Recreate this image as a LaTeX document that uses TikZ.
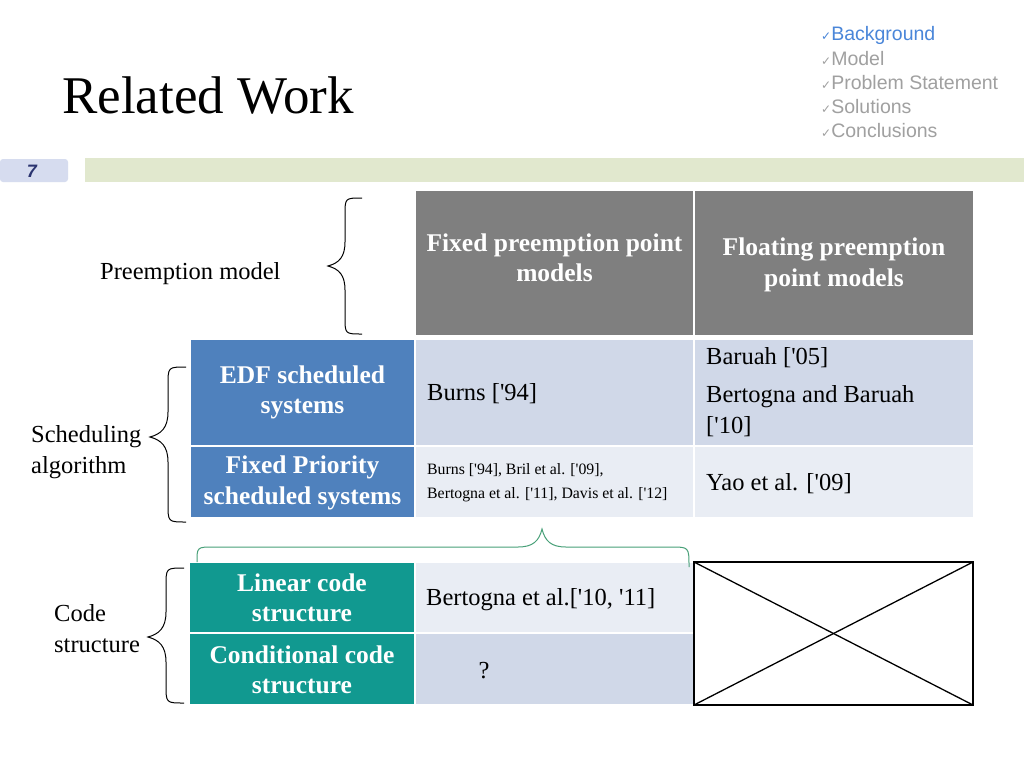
\documentclass[tikz,border=0pt]{standalone}
\usepackage{fontspec}
\newfontfamily\bodyfont{Liberation Serif}
\newfontfamily\navfont{Liberation Sans}
\newfontfamily\symfont{DejaVu Sans}
\definecolor{hdrgray}{RGB}{127,127,127}
\definecolor{blueA}{RGB}{79,129,189}
\definecolor{tealA}{RGB}{17,153,144}
\definecolor{lightA}{RGB}{208,216,232}
\definecolor{lightB}{RGB}{233,237,244}
\definecolor{barGreen}{RGB}{225,232,206}
\definecolor{numBox}{RGB}{214,220,239}
\definecolor{numText}{RGB}{43,52,112}
\definecolor{navBlue}{RGB}{74,134,217}
\definecolor{navGray}{RGB}{160,160,160}
\definecolor{braceGreen}{RGB}{72,160,120}
\begin{document}
\begin{tikzpicture}[x=1pt,y=-1pt,
  cell/.style={draw=none,inner sep=0,outer sep=0,anchor=north west},
  body/.style={font=\bodyfont\fontsize{24.5}{31}\selectfont,text=black,inner sep=0,align=left},
  small/.style={font=\bodyfont\fontsize{15.8}{24}\selectfont,text=black,inner sep=0,align=left},
  head/.style={font=\bodyfont\bfseries\fontsize{25.5}{30.5}\selectfont,text=white,inner sep=0,align=center},
  nav/.style={font=\navfont\fontsize{19.5}{20}\selectfont,inner sep=0,anchor=west},
  bracepath/.style={draw=black,line width=1pt},
  gbrace/.style={draw=braceGreen,line width=1pt}]
\useasboundingbox[fill=white] (0,0) rectangle (1024,768);

% title and navigation
\node[font=\bodyfont\fontsize{53}{60}\selectfont,anchor=base west,inner sep=0] (title) at (62,113) {Related Work};
\node[nav,text=navBlue] (n1) at (821,35) {{\symfont\fontsize{12}{12}\selectfont ✓}Background};
\node[nav,text=navGray] (n2) at (821,59) {{\symfont\fontsize{12}{12}\selectfont ✓}Model};
\node[nav,text=navGray] (n3) at (821,83) {{\symfont\fontsize{12}{12}\selectfont ✓}Problem Statement};
\node[nav,text=navGray] (n4) at (821,107) {{\symfont\fontsize{12}{12}\selectfont ✓}Solutions};
\node[nav,text=navGray] (n5) at (821,131) {{\symfont\fontsize{12}{12}\selectfont ✓}Conclusions};

% page number and bar
\node[cell,fill=numBox,rounded corners=3pt,minimum width=68pt,minimum height=23pt] (pnbox) at (0,159) {};
\node[font=\navfont\bfseries\itshape\fontsize{18}{18}\selectfont,text=numText,inner sep=0] (pn) at (32,171) {7};
\node[cell,fill=barGreen,minimum width=939pt,minimum height=24pt] (bar) at (85,158) {};

% upper table
\node[cell,fill=hdrgray,minimum width=277pt,minimum height=144pt] (h2) at (416,191) {};
\node[cell,fill=hdrgray,minimum width=278pt,minimum height=144pt] (h3) at (695,191) {};
\node[cell,fill=blueA,minimum width=223pt,minimum height=105pt] (r1c1) at (191,340) {};
\node[cell,fill=lightA,minimum width=277pt,minimum height=105pt] (r1c2) at (416,340) {};
\node[cell,fill=lightA,minimum width=278pt,minimum height=105pt] (r1c3) at (695,340) {};
\node[cell,fill=blueA,minimum width=223pt,minimum height=70pt] (r2c1) at (191,447) {};
\node[cell,fill=lightB,minimum width=277pt,minimum height=70pt] (r2c2) at (416,447) {};
\node[cell,fill=lightB,minimum width=278pt,minimum height=70pt] (r2c3) at (695,447) {};

\node[head] (th2) at (554.5,258) {Fixed preemption point\\models};
\node[head] (th3) at (834,265) {Floating preemption\\point models};
\node[head] (t11) at (302.5,392.5) {EDF scheduled\\systems};
\node[head] (t21) at (302.5,483) {Fixed Priority\\scheduled systems};
\node[body,anchor=west] (t12) at (427,394) {Burns ['94]};
\node[body,anchor=west] (t13a) at (706,358) {Baruah ['05]};
\node[body,anchor=west] (t13b) at (706,411.5) {Bertogna and Baruah\\{}['10]};
\node[small,anchor=west] (t22) at (427,483) {Burns ['94], Bril et al. ['09],\\Bertogna et al. ['11], Davis et al. ['12]};
\node[body,anchor=west] (t23) at (706,484) {Yao et al. ['09]};

% lower table
\node[cell,fill=tealA,minimum width=224pt,minimum height=69pt] (l1c1) at (190,563) {};
\node[cell,fill=lightB,minimum width=277pt,minimum height=69pt] (l1c2) at (416,563) {};
\node[cell,fill=tealA,minimum width=224pt,minimum height=70pt] (l2c1) at (190,634) {};
\node[cell,fill=lightA,minimum width=277pt,minimum height=70pt] (l2c2) at (416,634) {};
\node[head] (tl1) at (302,598) {Linear code\\structure};
\node[head] (tl2) at (302,670) {Conditional code\\structure};
\node[body,anchor=west] (tl12) at (426,600) {Bertogna et al.['10, '11]};
\node[body] (tl22) at (484,671) {?};

\node[cell,draw=black,line width=1.5pt,minimum width=279pt,minimum height=143pt] (xbox) at (694,562) {};
\draw[line width=1.3pt] (xbox.north west) -- (xbox.south east);
\draw[line width=1.3pt] (xbox.south west) -- (xbox.north east);

% side labels
\node[body,anchor=west] (lpm) at (100,274) {Preemption model};
\node[body,anchor=west] (lsa) at (31,452.5) {Scheduling\\algorithm};
\node[body,anchor=west] (lcs) at (54,628.5) {Code\\structure};

% braces
\draw[bracepath] (362,198) .. controls (345,198) .. (345,215) -- (345,242) .. controls (345,257) and (339,263) .. (328,266)
  .. controls (339,269) and (345,275) .. (345,290) -- (345,317) .. controls (345,334) .. (362,334);
\draw[bracepath] (186,367) .. controls (168,367) .. (168,385) -- (168,412) .. controls (168,428) and (161,434) .. (150,437)
  .. controls (161,440) and (168,446) .. (168,462) -- (168,504) .. controls (168,522) .. (186,522);
\draw[bracepath] (184,568) .. controls (166,568) .. (166,586) -- (166,612) .. controls (166,628) and (159,634) .. (148,637)
  .. controls (159,640) and (166,646) .. (166,662) -- (166,685) .. controls (166,703) .. (184,703);
\draw[gbrace] (197,562) .. controls (197,547) .. (214,547) -- (518,547) .. controls (533,547) and (539,541) .. (542,529)
  .. controls (545,541) and (551,547) .. (566,547) -- (671,547) .. controls (689,547) .. (689,567);
\end{tikzpicture}
\end{document}
